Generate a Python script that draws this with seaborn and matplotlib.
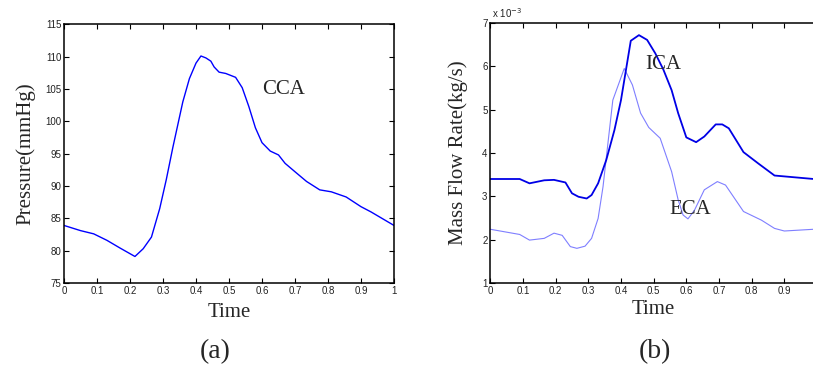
import numpy as np
import pandas as pd
import matplotlib
matplotlib.use("Agg")
import matplotlib.pyplot as plt
import seaborn as sns

# ---- data ----
cca_t = [0.0, 0.05, 0.09, 0.13, 0.17, 0.215, 0.24, 0.265, 0.29, 0.31, 0.33, 0.36,
         0.38, 0.40, 0.415, 0.43, 0.445, 0.455, 0.47, 0.49, 0.52, 0.54, 0.56, 0.58,
         0.60, 0.625, 0.65, 0.67, 0.70, 0.735, 0.775, 0.81, 0.855, 0.90, 0.93, 1.0]
cca_p = [83.9, 83.1, 82.6, 81.6, 80.4, 79.1, 80.3, 82.1, 86.5, 91.0, 96.0, 103.0,
         106.6, 109.0, 110.1, 109.8, 109.3, 108.4, 107.6, 107.4, 106.8, 105.2, 102.3, 99.0,
         96.7, 95.4, 94.8, 93.5, 92.2, 90.7, 89.4, 89.1, 88.3, 86.8, 86.0, 83.9]

ica_t = [0.0, 0.09, 0.12, 0.165, 0.195, 0.23, 0.25, 0.27, 0.295, 0.31, 0.33, 0.355,
         0.38, 0.40, 0.43, 0.455, 0.48, 0.505, 0.53, 0.555, 0.575, 0.60, 0.63, 0.655,
         0.69, 0.71, 0.73, 0.775, 0.82, 0.87, 0.99]
ica_m = [3.40, 3.40, 3.30, 3.37, 3.38, 3.32, 3.07, 2.99, 2.95, 3.03, 3.30, 3.84,
         4.53, 5.22, 6.59, 6.72, 6.61, 6.30, 5.92, 5.45, 4.92, 4.36, 4.25, 4.38,
         4.66, 4.66, 4.57, 4.02, 3.76, 3.48, 3.40]

eca_t = [0.0, 0.09, 0.12, 0.165, 0.195, 0.22, 0.245, 0.265, 0.29, 0.31, 0.33, 0.345,
         0.375, 0.41, 0.435, 0.46, 0.485, 0.52, 0.555, 0.575, 0.59, 0.605, 0.625, 0.655,
         0.695, 0.72, 0.775, 0.83, 0.87, 0.90, 0.99]
eca_m = [2.24, 2.12, 1.99, 2.03, 2.15, 2.10, 1.84, 1.80, 1.85, 2.03, 2.49, 3.22,
         5.22, 5.95, 5.57, 4.92, 4.59, 4.34, 3.57, 2.92, 2.57, 2.48, 2.68, 3.15,
         3.34, 3.26, 2.65, 2.45, 2.26, 2.20, 2.24]

left_xticks = [0, 0.1, 0.2, 0.3, 0.4, 0.5, 0.6, 0.7, 0.8, 0.9, 1]
left_yticks = [75, 80, 85, 90, 95, 100, 105, 110, 115]
right_xticks = [0, 0.1, 0.2, 0.3, 0.4, 0.5, 0.6, 0.7, 0.8, 0.9]
right_yticks = [1, 2, 3, 4, 5, 6, 7]

sns.set_theme(style="white")
plt.rcParams['font.family'] = ['Liberation Serif', 'DejaVu Serif']

df_cca = pd.DataFrame({"Time": cca_t, "Pressure": cca_p})
df_ica = pd.DataFrame({"Time": ica_t, "Flow": ica_m})
df_eca = pd.DataFrame({"Time": eca_t, "Flow": eca_m})

fig = plt.figure(figsize=(8.13, 3.75), dpi=100)
W, H = 813, 375
axL = fig.add_axes([64 / W, 1 - 283 / H, 330 / W, 258.7 / H])
axR = fig.add_axes([490.3 / W, 1 - 283 / H, 326.7 / W, 260 / H])

def style(ax, right=True):
    for s in ax.spines.values():
        s.set_color('black')
        s.set_linewidth(1.1)
    ax.tick_params(direction='in', length=3.5, width=0.8, top=True, right=right,
                   bottom=True, left=True, pad=2, colors='black')
    for lab in ax.get_xticklabels() + ax.get_yticklabels():
        lab.set_fontfamily('Liberation Sans')
        lab.set_fontsize(7)
        lab.set_color('#222222')

# Left panel
sns.lineplot(data=df_cca, x="Time", y="Pressure", ax=axL, color='#0000ff', lw=1.0,
             sort=False, estimator=None)
axL.set_xlim(0, 1)
axL.set_ylim(75, 115)
axL.set_xticks(left_xticks)
axL.set_xticklabels([f"{v:g}" for v in left_xticks])
axL.set_yticks(left_yticks)
axL.set_xlabel("Time", fontsize=15, labelpad=5)
axL.set_ylabel("Pressure(mmHg)", fontsize=15, labelpad=7)
axL.text(0.665, 104.9, "CCA", fontsize=15, ha='center', va='center')
style(axL)

# Right panel
sns.lineplot(data=df_eca, x="Time", y="Flow", ax=axR, color='#7f7fff', lw=0.8,
             sort=False, estimator=None)
sns.lineplot(data=df_ica, x="Time", y="Flow", ax=axR, color='#0000e6', lw=1.3,
             sort=False, estimator=None)
axR.set_xlim(0, 1)
axR.set_ylim(1, 7)
axR.set_xticks(right_xticks)
axR.set_xticklabels([f"{v:g}" for v in right_xticks])
axR.set_yticks(right_yticks)
axR.set_xlabel("Time", fontsize=15, labelpad=3)
axR.set_ylabel("Mass Flow Rate(kg/s)", fontsize=15, labelpad=10)
axR.text(0.53, 6.05, "ICA", fontsize=15, ha='center', va='center')
axR.text(0.613, 2.70, "ECA", fontsize=15, ha='center', va='center')
axR.text(0.006, 1.012, r"x 10$^{-3}$", transform=axR.transAxes, fontsize=7,
         family='Liberation Sans', ha='left', va='bottom', color='#222222')
style(axR, right=False)

fig.text(215 / W, 1 - 352 / H, "(a)", fontsize=20, ha='center', va='center')
fig.text(655 / W, 1 - 352 / H, "(b)", fontsize=20, ha='center', va='center')

fig.savefig("out.png", dpi=100)
